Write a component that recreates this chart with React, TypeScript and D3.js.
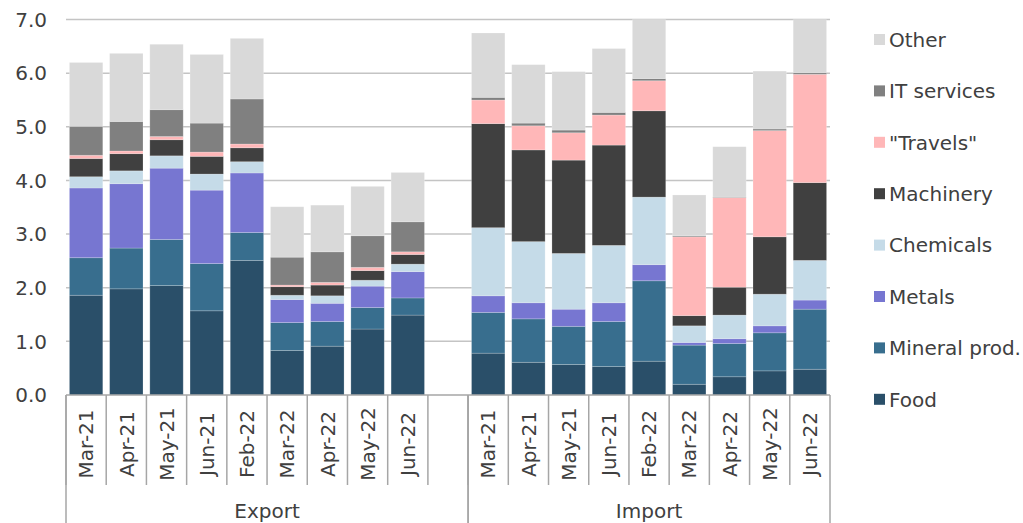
import React from "react";
import * as d3 from "d3";

const months = ["Mar-21", "Apr-21", "May-21", "Jun-21", "Feb-22", "Mar-22", "Apr-22", "May-22", "Jun-22"];
const groups = ["Export", "Import"];
const seriesNames = ["Food", "Mineral prod.", "Metals", "Chemicals", "Machinery", "\"Travels\"", "IT services", "Other"];
const seriesColors = ["#2a4f69", "#386e8e", "#7776d1", "#c5dbe8", "#404040", "#ffb7b8", "#808080", "#d9d9d9"];
const yTicks = [0, 1, 2, 3, 4, 5, 6, 7];

// values per series, export months then import months
const exportFood = [1.86, 1.98, 2.04, 1.57, 2.51, 0.83, 0.91, 1.23, 1.49];
const exportMineral = [0.70, 0.76, 0.86, 0.88, 0.52, 0.52, 0.46, 0.40, 0.32];
const exportMetals = [1.30, 1.20, 1.33, 1.37, 1.11, 0.43, 0.34, 0.40, 0.49];
const exportChemicals = [0.21, 0.24, 0.23, 0.30, 0.21, 0.08, 0.14, 0.11, 0.14];
const exportMachinery = [0.34, 0.32, 0.30, 0.33, 0.26, 0.16, 0.20, 0.18, 0.18];
const exportTravels = [0.06, 0.05, 0.06, 0.08, 0.07, 0.03, 0.05, 0.06, 0.05];
const exportIT = [0.54, 0.55, 0.50, 0.54, 0.84, 0.52, 0.57, 0.59, 0.56];
const exportOther = [1.19, 1.27, 1.22, 1.28, 1.13, 0.94, 0.87, 0.92, 0.92];

const importFood = [0.78, 0.61, 0.57, 0.53, 0.63, 0.20, 0.34, 0.45, 0.48];
const importMineral = [0.76, 0.81, 0.71, 0.84, 1.50, 0.73, 0.62, 0.71, 1.12];
const importMetals = [0.31, 0.30, 0.32, 0.35, 0.30, 0.05, 0.09, 0.13, 0.17];
const importChemicals = [1.27, 1.14, 1.04, 1.07, 1.26, 0.31, 0.44, 0.59, 0.74];
const importMachinery = [1.94, 1.71, 1.74, 1.87, 1.61, 0.19, 0.52, 1.07, 1.45];
const importTravels = [0.44, 0.45, 0.51, 0.56, 0.56, 1.47, 1.67, 1.98, 2.02];
const importIT = [0.05, 0.05, 0.05, 0.05, 0.04, 0.02, 0.01, 0.03, 0.03];
const importOther = [1.20, 1.09, 1.09, 1.19, 1.10, 0.76, 0.94, 1.08, 0.99];

const exportSeries = [exportFood, exportMineral, exportMetals, exportChemicals, exportMachinery, exportTravels, exportIT, exportOther];
const importSeries = [importFood, importMineral, importMetals, importChemicals, importMachinery, importTravels, importIT, importOther];

type Row = { key: string; group: string; month: string; [k: string]: any };

function buildRows(): Row[] {
  const rows: Row[] = [];
  months.forEach((m, i) => {
    const r: Row = { key: "Export|" + m, group: "Export", month: m };
    seriesNames.forEach((s, j) => (r[s] = exportSeries[j][i]));
    rows.push(r);
  });
  const gap: Row = { key: "Export|gap", group: "Export", month: "" };
  seriesNames.forEach((s) => (gap[s] = 0));
  rows.push(gap);
  months.forEach((m, i) => {
    const r: Row = { key: "Import|" + m, group: "Import", month: m };
    seriesNames.forEach((s, j) => (r[s] = importSeries[j][i]));
    rows.push(r);
  });
  return rows;
}

const W = 1023;
const H = 523;
const left = 66;
const right = 830;
const top = 19.6;
const bottom = 395;
const FONT = "'DejaVu Sans', Verdana, sans-serif";
const TXT = "#404040";

export default function App() {
  const rows = buildRows();
  const x = d3.scaleBand<string>().domain(rows.map((r) => r.key)).range([left, right]).paddingInner(0.17).paddingOuter(0.085);
  const step = x.step();
  const y = d3.scaleLinear().domain([0, 7]).range([bottom, top]);
  const stack = d3.stack<Row>().keys(seriesNames);
  const stacked = stack(rows);
  const catStart = (k: string) => left + rows.findIndex((r) => r.key === k) * step;

  const groupBounds = groups.map((g) => {
    const idx = rows.map((r, i) => (r.group === g ? i : -1)).filter((i) => i >= 0);
    return { g, x0: left + idx[0] * step, x1: left + (idx[idx.length - 1] + 1) * step };
  });

  return (
    <svg width={W} height={H} style={{ position: "absolute", left: 0, top: 0, background: "#fff" }} fontFamily={FONT}>
      {/* grid */}
      {yTicks.filter((t) => t > 0).map((t) => (
        <line key={t} x1={left} x2={right} y1={y(t)} y2={y(t)} stroke="#c4c4c4" strokeWidth={1.5} />
      ))}
      {/* y labels */}
      {yTicks.map((t) => (
        <text key={t} x={47} y={y(t)} dy="0.36em" textAnchor="end" fontSize={20} fill={TXT}>
          {d3.format(".1f")(t)}
        </text>
      ))}
      {/* bars */}
      {stacked.map((layer, li) => (
        <g key={layer.key} fill={seriesColors[li]}>
          {layer.map((d, i) =>
            d[1] - d[0] > 0 ? (
              <rect
                key={i}
                x={x(rows[i].key)}
                width={x.bandwidth()}
                y={y(d[1])}
                height={y(d[0]) - y(d[1])}
                stroke="#ffffff"
                strokeOpacity={0.25}
                strokeWidth={0.8}
              />
            ) : null
          )}
        </g>
      ))}
      {/* axis line */}
      <line x1={left} x2={right} y1={bottom} y2={bottom} stroke="#a6a6a6" strokeWidth={1.5} />
      {/* category ticks */}
      {rows.map((r, i) => (
        <line key={"t" + i} x1={left + i * step} x2={left + i * step} y1={bottom} y2={485} stroke="#a6a6a6" strokeWidth={1.5} />
      ))}
      {groupBounds.map((b) => (
        <g key={b.g}>
          <line x1={b.x0} x2={b.x0} y1={bottom} y2={H} stroke="#a6a6a6" strokeWidth={1.5} />
          <line x1={b.x1} x2={b.x1} y1={bottom} y2={H} stroke="#a6a6a6" strokeWidth={1.5} />
          <text x={(b.x0 + b.x1) / 2} y={517.5} textAnchor="middle" fontSize={20} fill={TXT}>
            {b.g}
          </text>
        </g>
      ))}
      {/* month labels */}
      {rows.map((r) =>
        r.month ? (
          <text
            key={"m" + r.key}
            transform={`translate(${catStart(r.key) + step / 2},444) rotate(-90)`}
            textAnchor="middle"
            dy="0.36em"
            fontSize={20}
            fill={TXT}
          >
            {r.month}
          </text>
        ) : null
      )}
      {/* legend */}
      {seriesNames
        .slice()
        .reverse()
        .map((s, i) => {
          const cy = 39.5 + i * 51.4;
          const ci = seriesNames.indexOf(s);
          return (
            <g key={s}>
              <rect x={874} y={cy - 5.5} width={11} height={11} fill={seriesColors[ci]} />
              <text x={889} y={cy} dy="0.36em" fontSize={20} fill={TXT}>
                {s}
              </text>
            </g>
          );
        })}
    </svg>
  );
}
